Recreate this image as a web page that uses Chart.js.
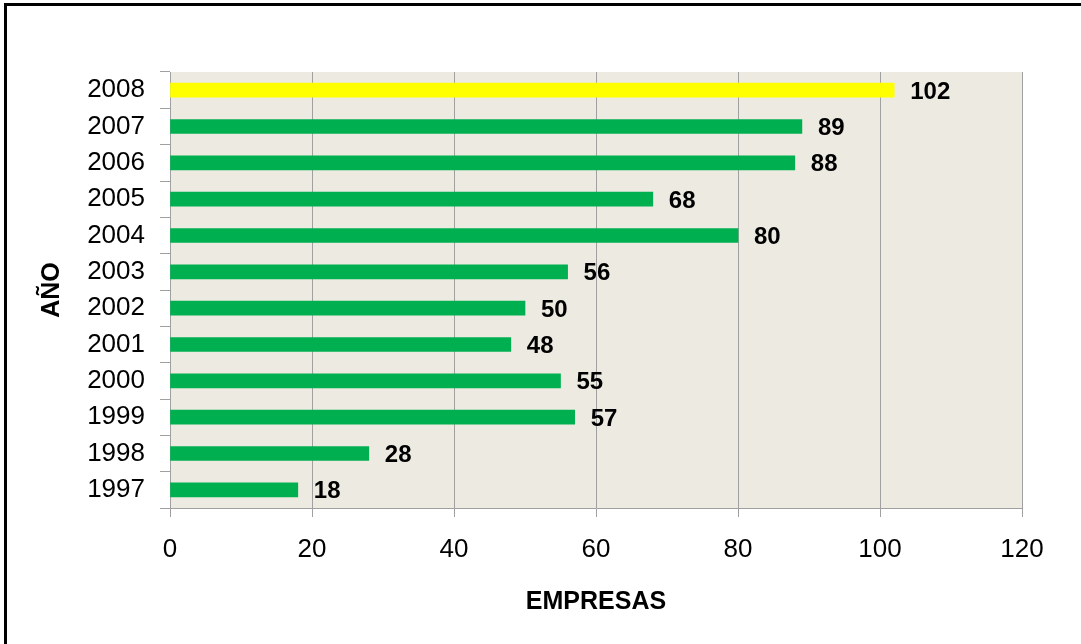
<!DOCTYPE html>
<html>
<head>
<meta charset="utf-8">
<script src="https://cdn.jsdelivr.net/npm/chart.js@4.4.1/dist/chart.umd.min.js"></script>
<style>
    html, body { margin: 0; padding: 0; background: #fff; }
    #empresasChart { display: block; }
</style>
</head>
<body>
<canvas id="empresasChart" width="1081" height="644"></canvas>
<script>
// datos
const years = ['1997', '1998', '1999', '2000', '2001', '2002', '2003', '2004', '2005', '2006', '2007', '2008'];
const empresas = [18, 28, 57, 55, 48, 50, 56, 80, 68, 88, 89, 102];
const xTicks = [0, 20, 40, 60, 80, 100, 120];

const highlightYear = '2008';
const fontFamily = "'Liberation Sans', Arial, sans-serif";
const gridGray = '#A0A0A0';

const backgroundPlugin = {
    id: 'plotBackground',
    beforeDraw: function (chart) {
        let ctx = chart.ctx;
        let area = chart.chartArea;
        ctx.save();
        ctx.fillStyle = '#ffffff';
        ctx.fillRect(0, 0, chart.width, chart.height);
        ctx.fillStyle = '#EDEBE1';
        ctx.fillRect(area.left, area.top, area.right - area.left, area.bottom - area.top);
        // marco exterior (solo se ve arriba e izquierda)
        ctx.fillStyle = '#000000';
        ctx.fillRect(4, 3, 3, chart.height);
        ctx.fillRect(4, 3, chart.width, 3);
        ctx.restore();
    }
};

const valueLabelPlugin = {
    id: 'valueLabels',
    afterDatasetsDraw: function (chart) {
        let ctx = chart.ctx;
        let meta = chart.getDatasetMeta(0);
        ctx.save();
        ctx.font = 'bold 24px ' + fontFamily;
        ctx.fillStyle = '#000000';
        ctx.textAlign = 'left';
        ctx.textBaseline = 'middle';
        for (let index = 0; index < meta.data.length; index++) {
            let bar = meta.data[index];
            ctx.fillText(String(empresas[index]), bar.x + 16, bar.y + 2);
        }
        ctx.restore();
    }
};

let ctx = document.getElementById('empresasChart').getContext('2d');
let empresasBar = new Chart(ctx, {
    type: 'bar',
    data: {
        labels: years,
        datasets: [{
            label: 'Empresas',
            data: empresas,
            backgroundColor: years.map(y => y === highlightYear ? '#FFFF00' : '#00B050'),
            barThickness: 14,
            borderWidth: 0
        }]
    },
    options: {
        indexAxis: 'y',
        responsive: false,
        animation: false,
        devicePixelRatio: 1,
        layout: { padding: { left: 0, top: 72, right: 59, bottom: 6 } },
        plugins: {
            legend: { display: false },
            tooltip: { enabled: false }
        },
        scales: {
            x: {
                type: 'linear',
                min: 0,
                max: 120,
                afterBuildTicks: function (scale) {
                    scale.ticks = xTicks.map(v => ({ value: v }));
                },
                afterFit: function (scale) { scale.height = 130; },
                ticks: {
                    color: '#000000',
                    font: { family: fontFamily, size: 26 },
                    padding: 17,
                    maxRotation: 0
                },
                grid: { color: gridGray, lineWidth: 1, tickLength: 9 },
                border: { display: true, color: gridGray },
                title: {
                    display: true,
                    text: 'EMPRESAS',
                    color: '#000000',
                    font: { family: fontFamily, size: 25, weight: 'bold' },
                    padding: { top: 0, bottom: 21 }
                }
            },
            y: {
                type: 'category',
                reverse: true,
                afterFit: function (scale) { scale.width = 170; },
                ticks: {
                    color: '#000000',
                    font: { family: fontFamily, size: 26 },
                    padding: 15
                },
                grid: { drawOnChartArea: false, color: gridGray, tickLength: 10 },
                border: { display: true, color: gridGray },
                title: {
                    display: true,
                    text: 'AÑO',
                    color: '#000000',
                    font: { family: fontFamily, size: 25, weight: 'bold' },
                    padding: { top: 37, bottom: 0 }
                }
            }
        }
    },
    plugins: [backgroundPlugin, valueLabelPlugin]
});
</script>
</body>
</html>
